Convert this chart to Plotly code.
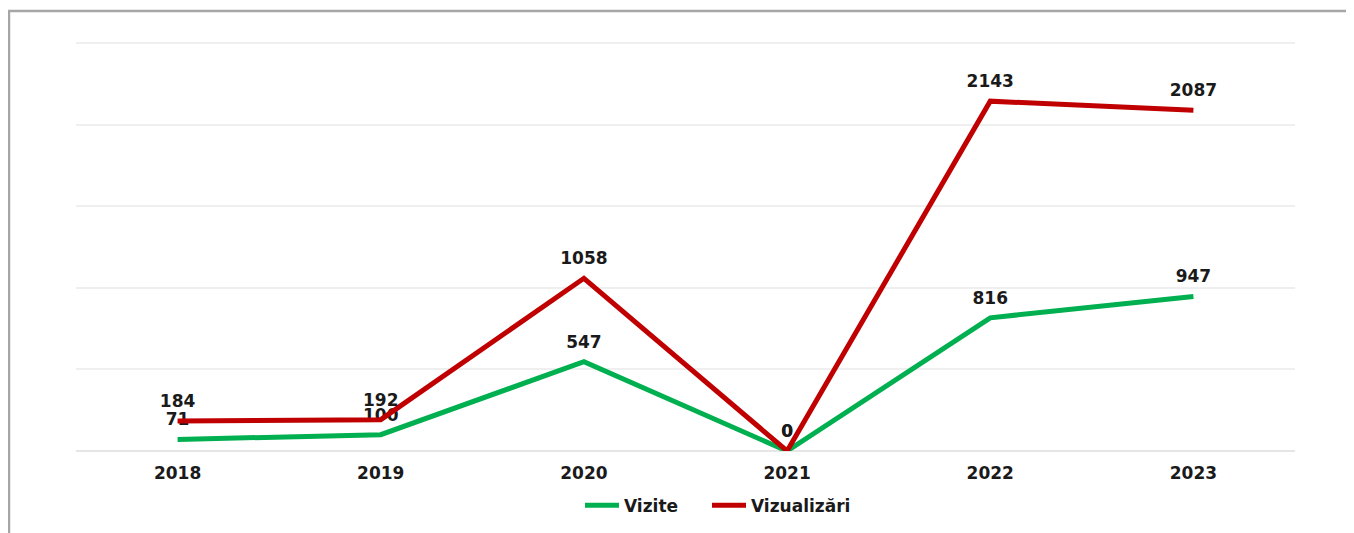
import plotly.graph_objects as go

years = ["2018", "2019", "2020", "2021", "2022", "2023"]
vizite = [71, 100, 547, 0, 816, 947]
vizualizari = [184, 192, 1058, 0, 2143, 2087]

FONT = "DejaVu Sans"
FS = 17
W, H = 1354, 533
OFF = 8  # page body margin
YMAX = 2530
L, R, T, B = 76 - OFF, 67, 30, 90
pw, ph = W - L - R, H - T - B
TXT = "#1a1a1a"

series = [("Vizite", vizite, "#00B050", "legend"),
          ("Vizualizări", vizualizari, "#C00000", "legend2")]

fig = go.Figure()
for name, vals, col, lg in series:
    fig.add_trace(go.Scatter(
        x=years, y=vals, name=name, mode="lines+markers+text",
        line=dict(color=col, width=5),
        marker=dict(size=14, color="rgba(0,0,0,0)"),
        text=[str(v) for v in vals], textposition="top center",
        textfont=dict(family=FONT, size=FS, color=TXT, weight="bold"),
        cliponaxis=False, legend=lg,
    ))

# outer border (top and left visible)
fig.add_shape(type="rect", xref="paper", yref="paper",
              x0=(9 - OFF - L) / pw, x1=(W + 30 - L) / pw,
              y0=-(H + 30 - T - ph) / ph, y1=(T + ph - (11 - OFF)) / ph,
              line=dict(color="#A6A6A6", width=2.5), layer="below")

ly = -0.134 * 408 / ph
lfont = dict(family=FONT, size=FS, color=TXT, weight="bold")
fig.update_layout(
    width=W, height=H,
    margin=dict(l=L, r=R, t=T, b=B),
    paper_bgcolor="white", plot_bgcolor="white",
    font=dict(family=FONT, size=FS, color=TXT),
    showlegend=True,
    legend=dict(orientation="h", x=(590 - 10 - OFF - L) / pw, xanchor="left", y=ly, yanchor="middle",
                font=lfont, itemwidth=34),
    legend2=dict(orientation="h", x=(717 - 10 - OFF - L) / pw, xanchor="left", y=ly, yanchor="middle",
                 font=lfont, itemwidth=34),
    xaxis=dict(showgrid=False, showline=False, zeroline=False, ticks="",
               ticklabelstandoff=10,
               tickfont=dict(family=FONT, size=FS, color=TXT, weight="bold"),
               range=[-0.5, 5.5]),
    yaxis=dict(range=[0, YMAX], tickvals=[0, 500, 1000, 1500, 2000, 2500],
               showticklabels=False, showgrid=True,
               gridcolor="#EFEFEF", gridwidth=1.5, zeroline=True, zerolinecolor="#E6E6E6",
               zerolinewidth=1.5, showline=False),
)

fig.write_html("out.html")
